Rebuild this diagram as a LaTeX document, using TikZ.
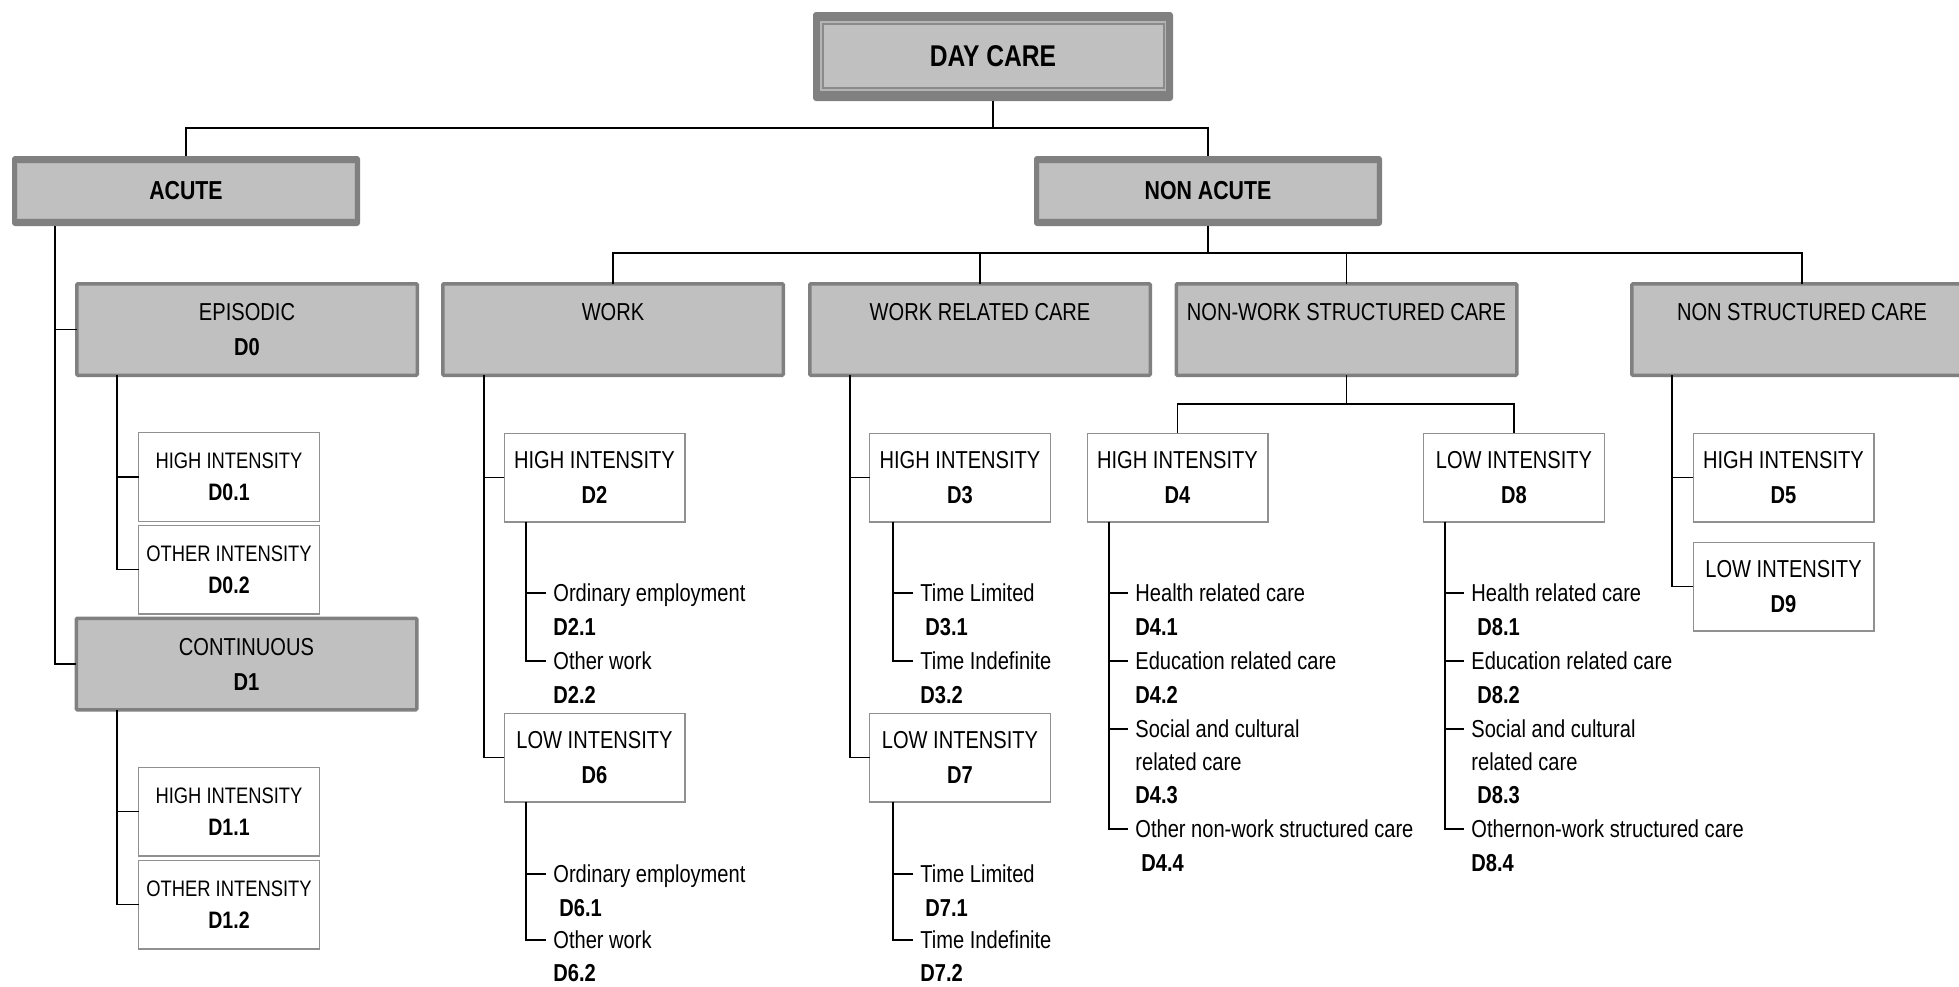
\documentclass[tikz,border=0pt]{standalone}
\usepackage{fontspec}
\setmainfont{Liberation Sans}[FakeStretch=0.82]
\usetikzlibrary{calc}
\definecolor{gdark}{HTML}{808080}
\definecolor{gfill}{HTML}{C0C0C0}
\definecolor{glight}{HTML}{B4B4B4}
\definecolor{gmid}{HTML}{8A8A8A}
\definecolor{gwb}{HTML}{909090}
\newcommand\fbig{\fontsize{15}{18}\selectfont\bfseries}
\newcommand\fmid{\fontsize{13}{16}\selectfont\bfseries}
\newcommand\fnorm{\fontsize{12.25}{17.5}\selectfont}
\newcommand\fsmall{\fontsize{11.2}{16}\selectfont}
\newcommand\fcode{\fontsize{11.9}{16}\selectfont\bfseries}
\begin{document}
\begin{tikzpicture}[x=0.5pt,y=-0.5pt,
  conn/.style={draw=black,line width=0.85pt},
  topbox/.style={fill=gdark, rounded corners=1.5pt, inner sep=0pt, outer sep=0pt,
    minimum width=180pt, minimum height=44.5pt, font=\fbig,
    path picture={
      \fill[glight,sharp corners] ([shift={(7,9)}]path picture bounding box.north west) rectangle ([shift={(-7,-10)}]path picture bounding box.south east);
      \fill[gmid,sharp corners] ([shift={(8.5,11)}]path picture bounding box.north west) rectangle ([shift={(-8.5,-12)}]path picture bounding box.south east);
      \fill[gfill,sharp corners] ([shift={(10.5,13)}]path picture bounding box.north west) rectangle ([shift={(-10.5,-14)}]path picture bounding box.south east);
    }},
  mainbox/.style={fill=gdark, rounded corners=1.5pt, inner sep=0pt, outer sep=0pt,
    minimum width=174pt, minimum height=35pt, font=\fmid,
    path picture={
      \filldraw[fill=gfill, draw=glight, line width=0.5pt, sharp corners] ([shift={(5.5,7.5)}]path picture bounding box.north west) rectangle ([shift={(-5.5,-7.5)}]path picture bounding box.south east);
    }},
  catbox/.style={draw=gdark, line width=1.75pt, fill=gfill, rounded corners=0.6pt,
    inner sep=0pt, outer sep=0pt, minimum width=170.25pt, minimum height=45.75pt,
    font=\fnorm, align=center},
  wbox/.style={draw=gwb, line width=0.6pt, fill=white, inner sep=0pt, outer sep=0pt,
    minimum width=90.4pt, minimum height=44.4pt, font=\fnorm, align=center},
  wsbox/.style={wbox, font=\fsmall},
  item/.style={anchor=west, inner xsep=3.5pt, inner ysep=0pt, text height=8.7pt,
    text depth=0pt, font=\fnorm},
]
\useasboundingbox (0,0) rectangle (1959,986);
\clip (0,0) rectangle (1959,986);

% ---------- top levels ----------
\node[topbox] (dc) at (993,56.5) {DAY CARE};
\node[mainbox] (acute) at (186,191) {ACUTE};
\node[mainbox] (nonacute) at (1208,191) {NON ACUTE};

\node[catbox] (episodic) at (247,329.5) {EPISODIC\\\textbf{D0}};
\node[catbox] (work) at (613,329.5) {WORK\\\textbf{\phantom{D0}}};
\node[catbox] (wrc) at (980,329.5) {WORK RELATED CARE\\\textbf{\phantom{D0}}};
\node[catbox] (nwsc) at (1346.5,329.5) {NON-WORK STRUCTURED CARE\\\textbf{\phantom{D0}}};
\node[catbox] (nsc) at (1802,329.5) {NON STRUCTURED CARE\\\textbf{\phantom{D0}}};
\node[catbox] (continuous) at (246.5,664) {CONTINUOUS\\\textbf{D1}};

% ---------- third level boxes ----------
\node[wsbox] (d01) at (229,477) {HIGH INTENSITY\\{\fcode D0.1}};
\node[wsbox] (d02) at (229,569.5) {OTHER INTENSITY\\{\fcode D0.2}};
\node[wsbox] (d11) at (229,811.5) {HIGH INTENSITY\\{\fcode D1.1}};
\node[wsbox] (d12) at (229,904.5) {OTHER INTENSITY\\{\fcode D1.2}};

\node[wbox] (d2) at (594.5,477.5) {HIGH INTENSITY\\\textbf{D2}};
\node[wbox] (d6) at (594.5,757.5) {LOW INTENSITY\\\textbf{D6}};
\node[wbox] (d3) at (960,477.5) {HIGH INTENSITY\\\textbf{D3}};
\node[wbox] (d7) at (960,757.5) {LOW INTENSITY\\\textbf{D7}};
\node[wbox] (d4) at (1177.5,477.5) {HIGH INTENSITY\\\textbf{D4}};
\node[wbox] (d8) at (1514,477.5) {LOW INTENSITY\\\textbf{D8}};
\node[wbox] (d5) at (1783.5,477.5) {HIGH INTENSITY\\\textbf{D5}};
\node[wbox] (d9) at (1783.5,586.5) {LOW INTENSITY\\\textbf{D9}};

% ---------- connectors: top ----------
\coordinate (j0) at (993,128);
\draw[conn] (dc.south) -- (j0);
\draw[conn] (acute.north) |- (j0) -| (nonacute.north);

\coordinate (ta) at ($(acute.south)+(-131,0)$);
\draw[conn] (ta) |- (episodic.west);
\draw[conn] (ta) |- (continuous.west);

\coordinate (j1) at (1208,253);
\draw[conn] (nonacute.south) -- (j1);
\draw[conn] (work.north) |- (j1) -| (nsc.north);
\draw[conn] (wrc.north) -- (wrc.north |- j1);
\draw[conn] (nwsc.north) -- (nwsc.north |- j1);

% ---------- connectors: second level ----------
\coordinate (te) at ($(episodic.south)+(-130,0)$);
\draw[conn] (te) |- (d01.west);
\draw[conn] (te) |- (d02.west);
\coordinate (tc) at ($(continuous.south)+(-129.5,0)$);
\draw[conn] (tc) |- (d11.west);
\draw[conn] (tc) |- (d12.west);
\coordinate (tw) at ($(work.south)+(-129,0)$);
\draw[conn] (tw) |- (d2.west);
\draw[conn] (tw) |- (d6.west);
\coordinate (tr) at ($(wrc.south)+(-130,0)$);
\draw[conn] (tr) |- (d3.west);
\draw[conn] (tr) |- (d7.west);
\coordinate (j2) at (1346.5,404);
\draw[conn] (nwsc.south) -- (j2);
\draw[conn] (d4.north) |- (j2) -| (d8.north);
\coordinate (tn) at ($(nsc.south)+(-130,0)$);
\draw[conn] (tn) |- (d5.west);
\draw[conn] (tn) |- (d9.west);

% ---------- D2 / D6 lists ----------
\coordinate (s2) at ($(d2.south)+(-68.5,0)$);
\node[item] (i21) at (546,593) {Ordinary employment};
\node[item] (c21) at (546,627) {\textbf{D2.1}};
\node[item] (i22) at (546,661) {Other work};
\node[item] (c22) at (546,695) {\textbf{D2.2}};
\draw[conn] (s2) |- (i21.west);
\draw[conn] (s2) |- (i22.west);

\coordinate (s6) at ($(d6.south)+(-68.5,0)$);
\node[item] (i61) at (546,874) {Ordinary employment};
\node[item] (c61) at (552,908) {\textbf{D6.1}};
\node[item] (i62) at (546,940) {Other work};
\node[item] (c62) at (546,973) {\textbf{D6.2}};
\draw[conn] (s6) |- (i61.west);
\draw[conn] (s6) |- (i62.west);

% ---------- D3 / D7 lists ----------
\coordinate (s3) at ($(d3.south)+(-67,0)$);
\node[item] (i31) at (913,593) {Time Limited};
\node[item] (c31) at (918,627) {\textbf{D3.1}};
\node[item] (i32) at (913,661) {Time Indefinite};
\node[item] (c32) at (913,695) {\textbf{D3.2}};
\draw[conn] (s3) |- (i31.west);
\draw[conn] (s3) |- (i32.west);

\coordinate (s7) at ($(d7.south)+(-67,0)$);
\node[item] (i71) at (913,874) {Time Limited};
\node[item] (c71) at (918,908) {\textbf{D7.1}};
\node[item] (i72) at (913,940) {Time Indefinite};
\node[item] (c72) at (913,973) {\textbf{D7.2}};
\draw[conn] (s7) |- (i71.west);
\draw[conn] (s7) |- (i72.west);

% ---------- D4 list ----------
\coordinate (s4) at ($(d4.south)+(-68.5,0)$);
\node[item] (i41) at (1128,593) {Health related care};
\node[item] (c41) at (1128,627) {\textbf{D4.1}};
\node[item] (i42) at (1128,661) {Education related care};
\node[item] (c42) at (1128,695) {\textbf{D4.2}};
\node[item] (i43) at (1128,729) {Social and cultural};
\node[item] (i43b) at (1128,762) {related care};
\node[item] (c43) at (1128,795) {\textbf{D4.3}};
\node[item] (i44) at (1128,829) {Other non-work structured care};
\node[item] (c44) at (1134,863) {\textbf{D4.4}};
\draw[conn] (s4) |- (i41.west);
\draw[conn] (s4) |- (i42.west);
\draw[conn] (s4) |- (i43.west);
\draw[conn] (s4) |- (i44.west);

% ---------- D8 list ----------
\coordinate (s8) at ($(d8.south)+(-69,0)$);
\node[item] (i81) at (1464,593) {Health related care};
\node[item] (c81) at (1470,627) {\textbf{D8.1}};
\node[item] (i82) at (1464,661) {Education related care};
\node[item] (c82) at (1470,695) {\textbf{D8.2}};
\node[item] (i83) at (1464,729) {Social and cultural};
\node[item] (i83b) at (1464,762) {related care};
\node[item] (c83) at (1470,795) {\textbf{D8.3}};
\node[item] (i84) at (1464,829) {Othernon-work structured care};
\node[item] (c84) at (1464,863) {\textbf{D8.4}};
\draw[conn] (s8) |- (i81.west);
\draw[conn] (s8) |- (i82.west);
\draw[conn] (s8) |- (i83.west);
\draw[conn] (s8) |- (i84.west);
\end{tikzpicture}
\end{document}
